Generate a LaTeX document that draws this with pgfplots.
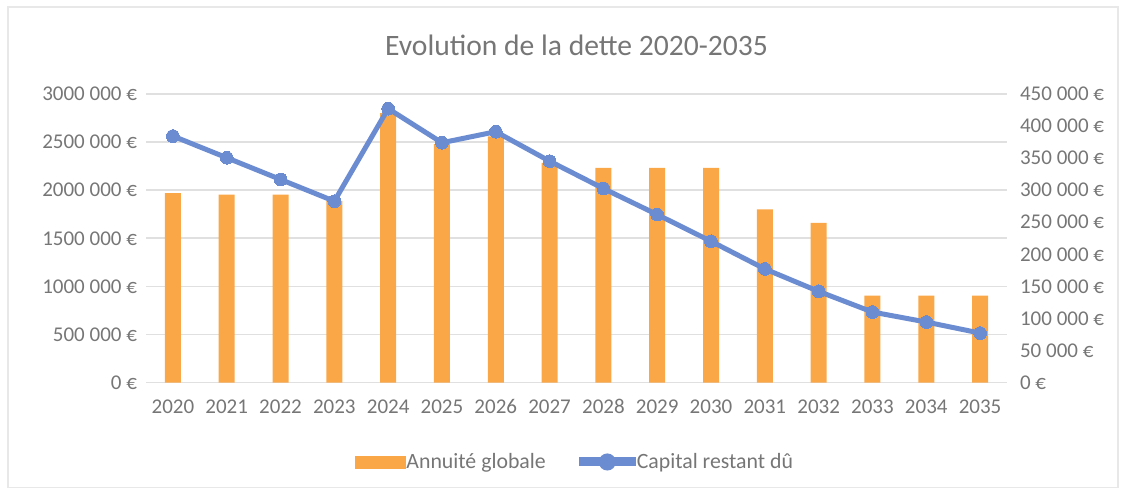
\documentclass[border=0pt]{standalone}
\usepackage{pgfplots}
\pgfplotsset{compat=1.18}
\usepackage{fontspec}
\setmainfont{Carlito}
\definecolor{txt}{RGB}{118,118,118}
\definecolor{gridc}{RGB}{224,224,224}
\definecolor{barc}{RGB}{250,167,72}
\definecolor{linec}{RGB}{108,140,210}
\begin{document}
\begin{tikzpicture}
\useasboundingbox (-73pt,-53.65pt) rectangle (487.5pt,191.3pt);
\draw[gray!18, line width=0.8pt] (-69pt,-52.4pt) rectangle (486pt,187.8pt);
\begin{axis}[
  at={(0,0)}, anchor=south west,
  scale only axis, width=430.5pt, height=144.3pt,
  xmin=-0.5, xmax=15.5, ymin=0, ymax=3000000,
  scaled y ticks=false,
  xtick={0,...,15},
  xticklabels={2020,2021,2022,2023,2024,2025,2026,2027,2028,2029,2030,2031,2032,2033,2034,2035},
  ytick={0,500000,1000000,1500000,2000000,2500000,3000000},
  yticklabels={0 €,500 000 €,1000 000 €,1500 000 €,2000 000 €,2500 000 €,3000 000 €},
  ymajorgrids, grid style={gridc, line width=0.8pt},
  axis line style={draw=none}, major tick style={draw=none},
  tick label style={font=\fontsize{10.5}{12}\selectfont, text=txt},
  yticklabel style={xshift=-1pt},
  xticklabel style={yshift=-5pt, text height=7pt, text depth=0pt},
  title={Evolution de la dette 2020-2035},
  title style={at={(0.5,1)}, anchor=center, yshift=18.5pt, font=\fontsize{14.8}{17}\selectfont, text=txt},
]
\addplot[ybar, bar width=8pt, fill=barc, draw=none] coordinates {
(0,1970000) (1,1955000) (2,1955000) (3,1890000) (4,2800000) (5,2480000) (6,2560000) (7,2285000)
(8,2233000) (9,2233000) (10,2233000) (11,1800000) (12,1660000) (13,903000) (14,903000) (15,903000)};
\end{axis}
\begin{axis}[
  at={(0,0)}, anchor=south west,
  scale only axis, width=430.5pt, height=144.3pt,
  xmin=-0.5, xmax=15.5, ymin=0, ymax=450000,
  scaled y ticks=false,
  axis y line*=right, axis x line=none,
  ytick={0,50000,100000,150000,200000,250000,300000,350000,400000,450000},
  yticklabels={0 €,50 000 €,100 000 €,150 000 €,200 000 €,250 000 €,300 000 €,350 000 €,400 000 €,450 000 €},
  axis line style={draw=none}, major tick style={draw=none},
  tick label style={font=\fontsize{10.5}{12}\selectfont, text=txt},
  yticklabel style={xshift=3pt},
  legend columns=2,
  legend style={at={(0.4975,0)}, anchor=center, yshift=-39.7pt, draw=none, fill=none,
    font=\fontsize{10.9}{12}\selectfont, text=txt,
    /tikz/every even column/.append style={column sep=16pt},
    nodes={inner xsep=0.5pt, inner ysep=1pt}},
]
\addlegendimage{legend image code/.code={\fill[barc] (0pt,-3pt) rectangle (25pt,3pt);}}
\addlegendentry{Annuité globale}
\addplot[linec, line width=2.5pt, mark=*, mark size=3.2pt, mark options={fill=linec, draw=linec, line width=0pt},
  legend image code/.code={\fill[linec] (0pt,-1pt) rectangle (26pt,1pt); \fill[linec] (13pt,0pt) circle (3pt);}]
coordinates {
(0,384400) (1,350600) (2,316700) (3,282800) (4,427200) (5,374000) (6,391200) (7,345300)
(8,302600) (9,262000) (10,220300) (11,177200) (12,142200) (13,110000) (14,94400) (15,77200)};
\addlegendentry{Capital restant dû}
\end{axis}
\end{tikzpicture}
\end{document}
